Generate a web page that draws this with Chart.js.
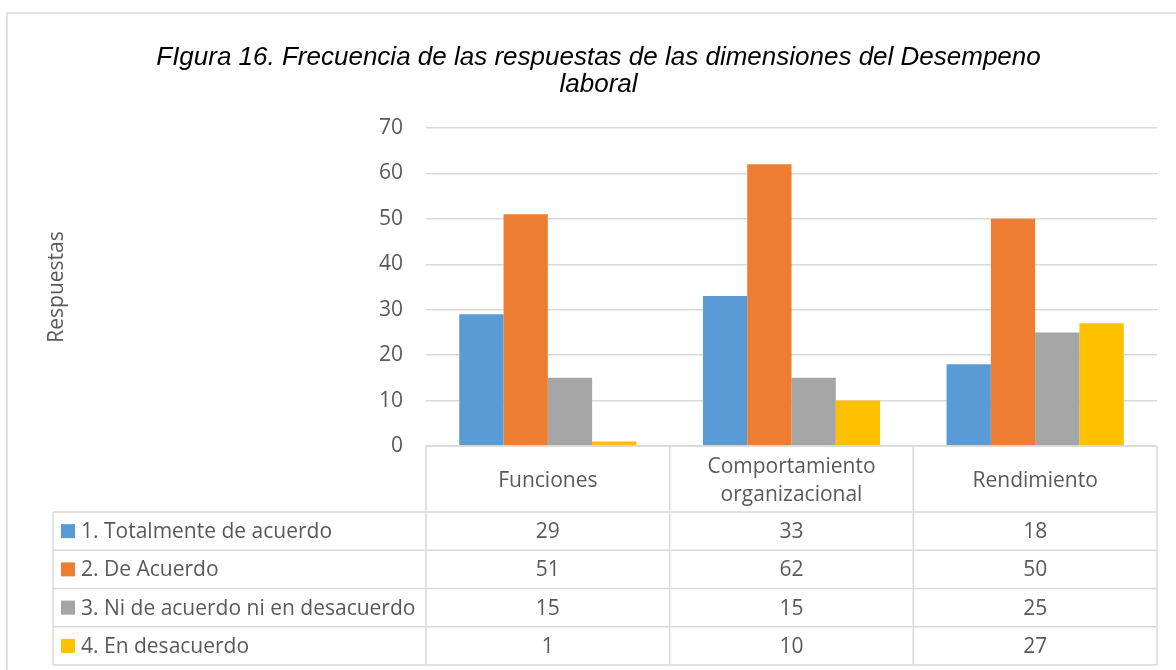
<!DOCTYPE html>
<html><head><meta charset="utf-8">
<script src="https://cdn.jsdelivr.net/npm/chart.js@4.4.1/dist/chart.umd.min.js"></script>
<style>html,body{margin:0;padding:0;background:#fff;} #wrap{position:relative;width:1176px;height:670px;}</style>
</head><body><div id="wrap"><canvas id="c" width="1176" height="670"></canvas></div>
<script>
const titleLines = ['FIgura 16. Frecuencia de las respuestas de las dimensiones del Desempeno', 'laboral'];
const categories = ['Funciones', ['Comportamiento', 'organizacional'], 'Rendimiento'];
const seriesNames = ['1. Totalmente de acuerdo', '2. De Acuerdo', '3. Ni de acuerdo ni en desacuerdo', '4. En desacuerdo'];
const totalmente = [29, 33, 18];
const deAcuerdo = [51, 62, 50];
const niNi = [15, 15, 25];
const desacuerdo = [1, 10, 27];
const yTicks = [0, 10, 20, 30, 40, 50, 60, 70];
const yAxisTitle = 'Respuestas';
const colors = ['#5B9BD5', '#ED7D31', '#A5A5A5', '#FFC000'];
const seriesValues = [totalmente, deAcuerdo, niNi, desacuerdo];

const FONT = '"Open Sans", "Noto Sans", sans-serif';
const TXT = '#595959';
const LINE = '#d9d9d9';

const tablePlugin = {
  id: 'dataTable',
  beforeDraw(chart) {
    const ctx = chart.ctx;
    ctx.save();
    ctx.strokeStyle = LINE; ctx.lineWidth = 1.5;
    ctx.beginPath();
    ctx.moveTo(7, 670); ctx.lineTo(7, 13); ctx.lineTo(1176, 13);
    ctx.stroke();
    ctx.restore();
  },
  afterDraw(chart) {
    const ctx = chart.ctx, xs = chart.scales.x, area = chart.chartArea;
    const left = area.left, right = area.right;
    const n = categories.length;
    const colW = (right - left) / n;
    const top = area.bottom, headerBottom = top + 66, bottom = xs.bottom;
    const rowH = (bottom - headerBottom) / seriesNames.length;
    const tableLeft = 53;
    ctx.save();
    ctx.strokeStyle = LINE; ctx.lineWidth = 1.5;
    ctx.beginPath();
    ctx.moveTo(left, top); ctx.lineTo(right, top);
    for (let r = 0; r <= seriesNames.length; r++) {
      const y = headerBottom + r * rowH;
      ctx.moveTo(tableLeft, y); ctx.lineTo(right, y);
    }
    for (let c = 0; c <= n; c++) {
      const x = left + c * colW;
      ctx.moveTo(x, top); ctx.lineTo(x, bottom);
    }
    ctx.moveTo(tableLeft, headerBottom); ctx.lineTo(tableLeft, bottom);
    ctx.stroke();
    ctx.font = '21px ' + FONT;
    ctx.textBaseline = 'middle';
    seriesNames.forEach((name, r) => {
      const yc = headerBottom + (r + 0.5) * rowH;
      ctx.fillStyle = colors[r];
      ctx.fillRect(61, yc - 7, 14, 14);
      ctx.fillStyle = TXT;
      ctx.textAlign = 'left';
      ctx.fillText(name, 81, yc + 1);
      ctx.textAlign = 'center';
      seriesValues[r].forEach((v, c) => ctx.fillText(String(v), xs.getPixelForValue(c), yc + 1));
    });
    ctx.restore();
  }
};

new Chart(document.getElementById('c'), {
  type: 'bar',
  data: {
    labels: categories,
    datasets: seriesNames.map((name, i) => ({
      label: name,
      data: seriesValues[i],
      backgroundColor: colors[i],
      borderWidth: 0,
      categoryPercentage: 0.727,
      barPercentage: 1.0
    }))
  },
  options: {
    responsive: false,
    animation: false,
    devicePixelRatio: 1,
    layout: { padding: { top: 0, left: 40, right: 19, bottom: 5 } },
    plugins: {
      legend: { display: false },
      tooltip: { enabled: false },
      title: {
        display: true,
        text: titleLines,
        color: '#000',
        font: { family: '"Liberation Sans", Arial, sans-serif', size: 26, style: 'italic', weight: 'normal', lineHeight: 27 / 26 },
        padding: { top: 44.5, bottom: 29.5 }
      }
    },
    scales: {
      x: {
        grid: { display: false },
        border: { display: false },
        ticks: {
          color: TXT,
          font: { family: FONT, size: 21, lineHeight: 1.3333 },
          padding: 13,
          crossAlign: 'center',
          maxRotation: 0,
          autoSkip: false
        },
        afterFit(scale) { scale.height = 219; }
      },
      y: {
        min: yTicks[0],
        max: yTicks[yTicks.length - 1],
        afterBuildTicks(scale) { scale.ticks = yTicks.map(v => ({ value: v })); },
        border: { display: false },
        grid: { color: LINE, lineWidth: 1.5, drawTicks: false },
        ticks: { color: TXT, font: { family: FONT, size: 21 }, padding: 23 },
        title: { display: true, text: yAxisTitle, color: TXT, font: { family: FONT, size: 21, lineHeight: 1.2 }, padding: { top: 4, bottom: 4 } },
        afterFit(scale) { scale.width = 386; }
      }
    }
  },
  plugins: [tablePlugin]
});
</script>
</body></html>
